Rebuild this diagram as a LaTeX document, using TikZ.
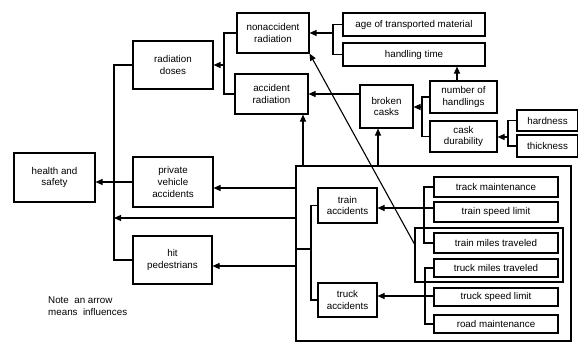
\documentclass[tikz,border=0pt]{standalone}
\usepackage{fontspec}
\setmainfont{Liberation Sans}
\usetikzlibrary{arrows.meta}
\newcommand{\fsz}{\fontsize{9.8}{11.8}\selectfont}
\begin{document}
\begin{tikzpicture}[x=1pt,y=-1pt,
  box/.style={draw, line width=1.1pt, align=center, inner sep=0pt, font=\fsz},
  ln/.style={line width=1.1pt},
  arr/.style={line width=1.1pt, -{Triangle[length=7pt,width=6pt]}},
  note/.style={font=\fsz, align=left, anchor=north west, inner sep=0pt}]
\useasboundingbox (0,0) rectangle (578,345);
% left column
\node[box, minimum width=81pt, minimum height=49pt] (hs) at (54.5,177.5) {health and\\safety};
\node[box, minimum width=80pt, minimum height=48pt] (rd) at (173,65) {radiation\\doses};
\node[box, minimum width=80pt, minimum height=50pt] (pva) at (173,182) {private\\vehicle\\accidents};
\node[box, minimum width=79pt, minimum height=48pt] (hp) at (172.5,260) {hit\\pedestrians};
% radiation
\node[box, minimum width=72pt, minimum height=40pt] (nar) at (273,33) {nonaccident\\radiation};
\node[box, minimum width=73pt, minimum height=40pt] (ar) at (271.5,94) {accident\\radiation};
\node[box, minimum width=142pt, minimum height=23pt] (age) at (414,24.5) {age of transported material};
\node[box, minimum width=142pt, minimum height=23pt] (ht) at (414,54.5) {handling time};
\node[box, minimum width=53pt, minimum height=43pt] (bc) at (386.5,106.5) {broken\\casks};
\node[box, minimum width=67pt, minimum height=32pt] (nh) at (463.5,97) {number of\\handlings};
\node[box, minimum width=67pt, minimum height=31pt] (cd) at (463.5,136.5) {cask\\durability};
\node[box, minimum width=61pt, minimum height=21pt] (hard) at (547.5,120.5) {hardness};
\node[box, minimum width=61pt, minimum height=22pt] (thick) at (547.5,146) {thickness};
% big box
\node[draw, line width=1.1pt, minimum width=275pt, minimum height=175pt, inner sep=0pt] (big) at (433.5,253.5) {};
\node[draw, line width=1.1pt, minimum width=148pt, minimum height=54pt, inner sep=0pt] (miles) at (489,255) {};
\node[box, minimum width=124pt, minimum height=20pt] (tm) at (496,187) {track maintenance};
\node[box, minimum width=124pt, minimum height=20pt] (tsl) at (496,212) {train speed limit};
\node[box, minimum width=124pt, minimum height=20pt, fill=white] (tmt) at (496,243) {train miles traveled};
\node[box, minimum width=124pt, minimum height=18pt, fill=white] (kmt) at (496,268) {truck miles traveled};
\node[box, minimum width=124pt, minimum height=18pt] (ksl) at (496,297) {truck speed limit};
\node[box, minimum width=124pt, minimum height=18pt] (rm) at (496,324) {road maintenance};
\node[box, minimum width=59pt, minimum height=35pt] (ta) at (347.5,205.5) {train\\accidents};
\node[box, minimum width=59pt, minimum height=34pt] (ka) at (347.5,300) {truck\\accidents};
% note
\node[note] (nt) at (48,297) {Note\ \ an arrow\\means\ \ influences};
% coordinates
\coordinate (rdj) at (224,65);
\coordinate (lj) at (114,218);
\coordinate (agej) at (333,33);
\coordinate (nhj) at (422,107);
\coordinate (hdj) at (508,137);
\coordinate (trj) at (424,208);
\coordinate (tkj) at (425,296);
\coordinate (inj) at (311,249);
\coordinate (mj) at (415,245);
% connectors: radiation doses bracket
\draw[ln] (nar.west) -- (nar.west -| rdj) |- (ar.west);
\draw[arr] (rdj) -- (rdj -| rd.east);
% main left bracket
\draw[ln] (rd.west) -- (rd.west -| lj) |- (hp.west);
\draw[arr] (pva.west) -- (pva.west -| hs.east);
% big box to left
\draw[arr] (big.west |- 0,188) -- (pva.east |- 0,188);
\draw[arr] (big.west |- lj) -- (lj);
\draw[arr] (big.west |- 0,266) -- (hp.east |- 0,266);
% big box up
\draw[arr] (big.north -| 303,0) -- (ar.south -| 303,0);
\draw[arr] (big.north -| 378,0) -- (bc.south -| 378,0);
% broken casks to accident radiation
\draw[arr] (bc.west |- 0,94) -- (ar.east |- 0,94);
% age / handling time bracket
\draw[ln] (age.west) -- (age.west -| agej) |- (ht.west);
\draw[arr] (agej) -- (agej -| nar.east);
% number of handlings -> handling time
\draw[arr] (nh.north -| 457,0) -- (ht.south -| 457,0);
% number / durability bracket
\draw[ln] (nh.west) -- (nh.west -| nhj) |- (cd.west);
\draw[arr] (nhj) -- (nhj -| bc.east);
% hardness / thickness bracket
\draw[ln] (hard.west) -- (hard.west -| hdj) |- (thick.west);
\draw[arr] (hdj) -- (hdj -| cd.east);
% train bracket
\draw[ln] (tm.west) -- (tm.west -| trj) |- (tmt.west);
\draw[arr] (trj -| tsl.west) -- (trj -| ta.east);
% truck bracket
\draw[ln] (kmt.west) -- (kmt.west -| tkj) |- (rm.west);
\draw[arr] (tkj -| ksl.west) -- (tkj -| ka.east);
% inner left bracket
\draw[ln] (ta.west) -- (ta.west -| inj) |- (ka.west);
\draw[ln] (inj -| big.west) -- (inj);
% diagonal
\draw[arr] (mj) -- (nar.south east);
\end{tikzpicture}
\end{document}
